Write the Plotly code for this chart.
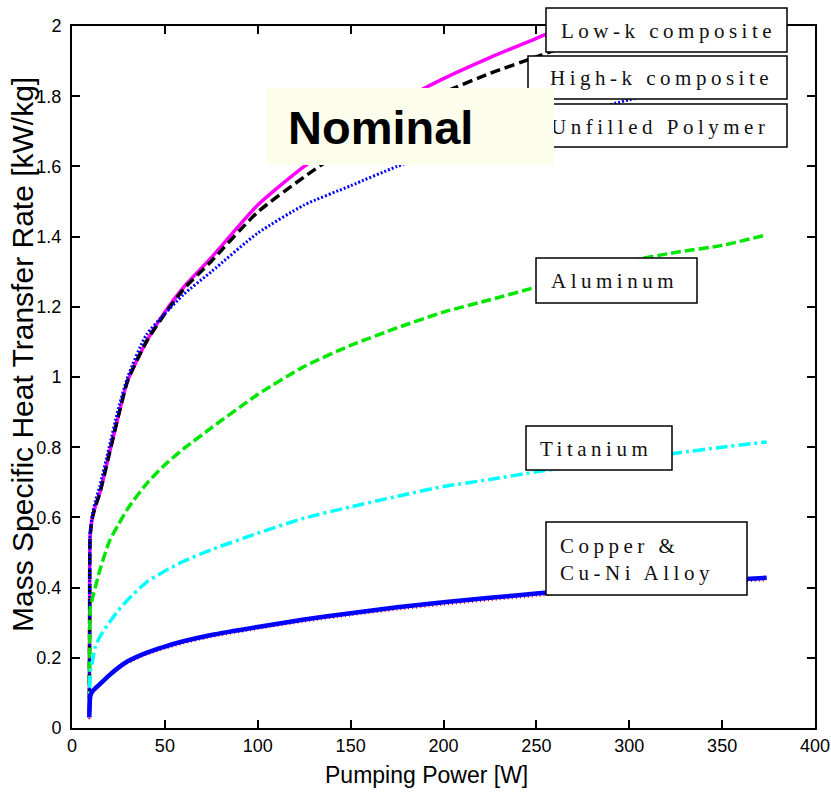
import plotly.graph_objects as go

# ---------------- data ----------------
pumping_power = [9.3, 9.5, 9.8, 11, 12.5, 15, 20, 25, 30, 40, 50, 60, 75, 100,
                 125, 150, 175, 200, 225, 250, 275, 300, 325, 350, 374]

low_k = [0.04, 0.30, 0.55, 0.60, 0.63, 0.67, 0.78, 0.89, 0.99, 1.10, 1.185, 1.255, 1.34,
         1.49, 1.60, 1.69, 1.78, 1.85, 1.91, 1.965, 2.02, 2.07, 2.12, 2.16, 2.20]
high_k = [0.04, 0.30, 0.55, 0.60, 0.63, 0.67, 0.78, 0.89, 0.99, 1.10, 1.18, 1.25, 1.33,
          1.47, 1.57, 1.66, 1.74, 1.81, 1.865, 1.912, 1.96, 2.00, 2.04, 2.08, 2.11]
unfilled = [0.04, 0.30, 0.56, 0.61, 0.645, 0.69, 0.80, 0.91, 1.00, 1.12, 1.18, 1.235, 1.30,
            1.41, 1.49, 1.545, 1.60, 1.645, 1.685, 1.72, 1.755, 1.79, 1.82, 1.85, 1.875]
aluminum = [0.12, 0.25, 0.34, 0.37, 0.40, 0.45, 0.53, 0.58, 0.625, 0.695, 0.75, 0.795, 0.855,
            0.95, 1.03, 1.09, 1.14, 1.185, 1.22, 1.256, 1.29, 1.33, 1.355, 1.375, 1.405]
titanium = [0.05, 0.11, 0.16, 0.19, 0.23, 0.26, 0.30, 0.335, 0.365, 0.415, 0.447, 0.475, 0.508,
            0.555, 0.598, 0.63, 0.66, 0.688, 0.708, 0.73, 0.748, 0.765, 0.783, 0.80, 0.815]
copper = [0.03, 0.06, 0.09, 0.105, 0.113, 0.125, 0.15, 0.172, 0.19, 0.214, 0.232, 0.247, 0.265,
          0.288, 0.309, 0.327, 0.344, 0.358, 0.371, 0.383, 0.394, 0.404, 0.413, 0.421, 0.428]
cu_ni = [0.025, 0.055, 0.085, 0.10, 0.108, 0.12, 0.145, 0.167, 0.185, 0.208, 0.226, 0.241, 0.259,
         0.282, 0.303, 0.321, 0.337, 0.351, 0.364, 0.376, 0.387, 0.397, 0.406, 0.414, 0.421]

x_ticks = [0, 50, 100, 150, 200, 250, 300, 350, 400]
y_ticks = [0, 0.2, 0.4, 0.6, 0.8, 1, 1.2, 1.4, 1.6, 1.8, 2]

x_title = "Pumping Power [W]"
y_title = "Mass Specific Heat Transfer Rate [kW/kg]"
panel_title = "Nominal"

# ---------------- layout helpers (pixel -> paper) ----------------
W, H = 831, 793
L, R, T, B = 72, 16, 26, 65
PW, PH = W - L - R, H - T - B


def px(xp):
    return (xp - L) / PW


def py(yp):
    return (T + PH - yp) / PH


fig = go.Figure()

series = [
    (low_k, "#FF00FF", 3.5, "solid"),
    (high_k, "#000000", 3.5, "10px,5px"),
    (unfilled, "#0000FF", 3, "2px,2px"),
    (aluminum, "#00E600", 3.5, "10px,4px"),
    (titanium, "#00FFFF", 3.5, "12px,4px,3px,4px"),
    (cu_ni, "#FF0000", 2, "1px,3px"),
    (copper, "#0000FF", 4.5, "solid"),
]
for ys, col, w, dash in series:
    fig.add_trace(go.Scatter(x=pumping_power, y=ys, mode="lines",
                             line=dict(color=col, width=w, dash=dash,
                                       shape="spline", smoothing=0.6),
                             showlegend=False, hoverinfo="skip"))

# label boxes (pixel rectangles)
boxes = [
    (546, 8, 787, 52),     # Low-k
    (528, 56, 787, 99),    # High-k
    (537, 104, 787, 147),  # Unfilled
    (536, 258, 697, 303),  # Aluminum
    (526, 426, 672, 470),  # Titanium
    (546, 522, 747, 595),  # Copper
]
shapes = []
for x0, y0, x1, y1 in boxes:
    shapes.append(dict(type="rect", xref="paper", yref="paper",
                       x0=px(x0), x1=px(x1), y0=py(y1), y1=py(y0),
                       fillcolor="white", line=dict(color="black", width=1.5),
                       layer="above"))

LS = "letter-spacing:4.5px"
labels = [
    ("Low-k composite", 559, 31),
    ("High-k composite", 548, 78),
    ("Unfilled Polymer", 549, 127),
    ("Aluminum", 549, 281),
    ("Titanium", 538, 449),
    ("Copper &amp;<br>Cu-Ni Alloy", 558, 559),
]
annotations = []
for txt, x0, yc in labels:
    annotations.append(dict(text=f'<span style="{LS}">{txt}</span>', xref="paper", yref="paper",
                            x=px(x0), y=py(yc), xanchor="left", yanchor="middle",
                            align="left", showarrow=False,
                            font=dict(family="Liberation Serif, Times New Roman, serif",
                                      size=21, color="#111111")))

# Nominal panel (background then text)
annotations.append(dict(text="&nbsp;", xref="paper", yref="paper",
                        x=px(267), y=py(88), xanchor="left", yanchor="top",
                        width=287, height=77, borderpad=0, borderwidth=0,
                        bgcolor="#FDFDEC", showarrow=False,
                        font=dict(size=10)))
annotations.append(dict(text=f"<b>{panel_title}</b>", xref="paper", yref="paper",
                        x=px(286), y=py(127), xanchor="left", yanchor="middle",
                        showarrow=False,
                        font=dict(family="Liberation Sans, Arial, sans-serif",
                                  size=47, color="black")))

# axis titles
annotations.append(dict(text=x_title, xref="paper", yref="paper",
                        x=px(426), y=py(775), xanchor="center", yanchor="middle",
                        showarrow=False,
                        font=dict(family="Liberation Sans, Arial", size=23, color="black")))
annotations.append(dict(text=y_title, xref="paper", yref="paper",
                        x=px(22), y=py(355), xanchor="center", yanchor="middle",
                        textangle=-90, showarrow=False,
                        font=dict(family="Liberation Sans, Arial", size=30, color="black")))

tickfont = dict(family="Liberation Sans, Arial", size=18, color="black")

fig.update_layout(
    width=W, height=H,
    margin=dict(l=L, r=R, t=T, b=B, autoexpand=False),
    paper_bgcolor="white", plot_bgcolor="white",
    shapes=shapes, annotations=annotations,
    xaxis=dict(range=[0, 400], tickvals=x_ticks, ticktext=[str(v) for v in x_ticks],
               ticks="inside", ticklen=8, tickwidth=1.5, tickcolor="black",
               showline=True, linecolor="black", linewidth=2, mirror="ticks",
               showgrid=False, zeroline=False, tickfont=tickfont, automargin=False),
    yaxis=dict(range=[0, 2], tickvals=y_ticks, ticktext=[f"{v:g}" for v in y_ticks],
               ticks="inside", ticklen=8, tickwidth=1.5, tickcolor="black",
               showline=True, linecolor="black", linewidth=2, mirror="ticks",
               showgrid=False, zeroline=False, tickfont=tickfont,
               ticklabelstandoff=5, automargin=False),
)

fig.write_html("out.html")
